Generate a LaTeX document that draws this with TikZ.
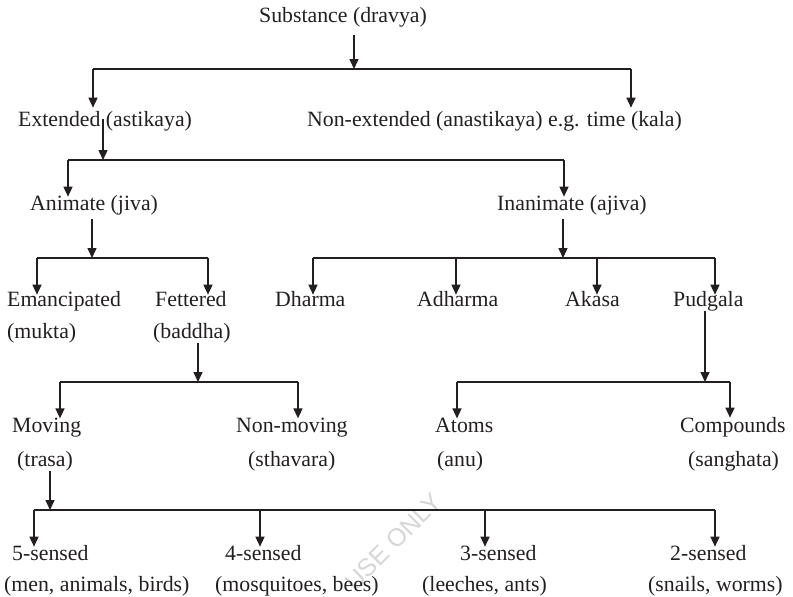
\documentclass[tikz,border=0pt]{standalone}
\usepackage{fontspec}
\setmainfont{Liberation Serif}
\newfontfamily\wmfont{Liberation Sans}
\usetikzlibrary{arrows.meta}
\definecolor{ink}{HTML}{231F20}
\tikzset{
  lbl/.style={anchor=base west, inner sep=0pt, text=ink,
    font=\fontsize{21.8}{26}\selectfont},
  arr/.style={draw=ink, line width=1.5pt, -{Triangle[length=10pt,width=9pt]}},
  bus/.style={draw=ink, line width=1.5pt},
}
\begin{document}
\begin{tikzpicture}[x=1pt,y=-1pt]
\useasboundingbox (0,0) rectangle (793,597);

% faint watermark
\node[rotate=45, text=black!16, font=\wmfont\fontsize{25}{25}\selectfont, inner sep=0pt]
  (wm) at (393,542) {USE ONLY};

% ---- labels ----
\node[lbl] (subst)   at (259,22)  {Substance (dravya)};
\node[lbl] (ext)     at (18,126)  {Extended (astikaya)};
\node[lbl] (next)    at (307,126) {Non-extended (anastikaya) e.g. time (kala)};
\node[lbl] (anim)    at (30,210)  {Animate (jiva)};
\node[lbl] (inanim)  at (497,210) {Inanimate (ajiva)};
\node[lbl] (eman)    at (7,306)   {Emancipated};
\node[lbl] (mukta)   at (7,338)   {(mukta)};
\node[lbl] (fet)     at (155,306) {Fettered};
\node[lbl] (baddha)  at (153,338) {(baddha)};
\node[lbl] (dharma)  at (275,306) {Dharma};
\node[lbl] (adharma) at (417,306) {Adharma};
\node[lbl] (akasa)   at (565,306) {Akasa};
\node[lbl] (pudgala) at (673,306) {Pudgala};
\node[lbl] (moving)  at (12,432)  {Moving};
\node[lbl] (trasa)   at (17,466)  {(trasa)};
\node[lbl] (nonmov)  at (236,432) {Non-moving};
\node[lbl] (sthav)   at (248,466) {(sthavara)};
\node[lbl] (atoms)   at (435,432) {Atoms};
\node[lbl] (anu)     at (437,466) {(anu)};
\node[lbl] (comp)    at (680,432) {Compounds};
\node[lbl] (sangh)   at (688,466) {(sanghata)};
\node[lbl] (s5)      at (12,560)  {5-sensed};
\node[lbl] (s5b)     at (4,591)   {(men, animals, birds)};
\node[lbl] (s4)      at (225,560) {4-sensed};
\node[lbl] (s4b)     at (215,591) {(mosquitoes, bees)};
\node[lbl] (s3)      at (460,560) {3-sensed};
\node[lbl] (s3b)     at (422,591) {(leeches, ants)};
\node[lbl] (s2)      at (670,560) {2-sensed};
\node[lbl] (s2b)     at (648,591) {(snails, worms)};

% ---- bus junctions ----
\coordinate (j1) at (354,69);  \coordinate (j1l) at (93,69);  \coordinate (j1r) at (631,69);
\coordinate (j2) at (103,160); \coordinate (j2l) at (68,160); \coordinate (j2r) at (564,160);
\coordinate (j3) at (92,258);  \coordinate (j3l) at (37,258); \coordinate (j3r) at (208,258);
\coordinate (j4) at (563,258); \coordinate (j4a) at (313,258); \coordinate (j4b) at (456,258);
\coordinate (j4c) at (597,258); \coordinate (j4d) at (715,258);
\coordinate (j5) at (198,382); \coordinate (j5l) at (60,382); \coordinate (j5r) at (298,382);
\coordinate (j6) at (705,382); \coordinate (j6l) at (457,382); \coordinate (j6r) at (730,382);
\coordinate (j7) at (50,510);  \coordinate (j7a) at (34,510); \coordinate (j7b) at (260,510);
\coordinate (j7c) at (485,510); \coordinate (j7d) at (715,510);

% ---- Substance ----
\draw[arr, shorten <=8pt] (subst.south -| j1) -- (j1);
\draw[bus] (j1l) -- (j1r);
\draw[arr, shorten >=3pt] (j1l) -- (j1l |- ext.north);
\draw[arr, shorten >=3pt] (j1r) -- (j1r |- next.north);

% ---- Extended ----
\draw[arr, shorten <=-12pt] (ext.south -| j2) -- (j2);
\draw[bus] (j2l) -- (j2r);
\draw[arr, shorten >=-2pt] (j2l) -- (j2l |- anim.north);
\draw[arr, shorten >=-2pt] (j2r) -- (j2r |- inanim.north);

% ---- Animate ----
\draw[arr, shorten <=4pt] (anim.south -| j3) -- (j3);
\draw[bus] (j3l) -- (j3r);
\draw[arr, shorten >=-4pt] (j3l) -- (j3l |- eman.north);
\draw[arr, shorten >=-4pt] (j3r) -- (j3r |- fet.north);

% ---- Inanimate ----
\draw[arr, shorten <=4pt] (inanim.south -| j4) -- (j4);
\draw[bus] (j4a) -- (j4d);
\draw[arr, shorten >=-4pt] (j4a) -- (j4a |- dharma.north);
\draw[arr, shorten >=-4pt] (j4b) -- (j4b |- adharma.north);
\draw[arr, shorten >=-4pt] (j4c) -- (j4c |- akasa.north);
\draw[arr, shorten >=-4pt] (j4d) -- (j4d |- pudgala.north);

% ---- Fettered ----
\draw[arr] (baddha.south -| j5) -- (j5);
\draw[bus] (j5l) -- (j5r);
\draw[arr, shorten >=-1pt] (j5l) -- (j5l |- moving.north);
\draw[arr, shorten >=-1pt] (j5r) -- (j5r |- nonmov.north);

% ---- Pudgala ----
\draw[arr] (pudgala.south -| j6) -- (j6);
\draw[bus] (j6l) -- (j6r);
\draw[arr, shorten >=-1pt] (j6l) -- (j6l |- atoms.north);
\draw[arr, shorten >=-1pt] (j6r) -- (j6r |- comp.north);

% ---- Moving ----
\draw[arr] (trasa.south -| j7) -- (j7);
\draw[bus] (j7a) -- (j7d);
\draw[arr, shorten >=-2pt] (j7a) -- (j7a |- s5.north);
\draw[arr, shorten >=-2pt] (j7b) -- (j7b |- s4.north);
\draw[arr, shorten >=-2pt] (j7c) -- (j7c |- s3.north);
\draw[arr, shorten >=-2pt] (j7d) -- (j7d |- s2.north);
\end{tikzpicture}
\end{document}
